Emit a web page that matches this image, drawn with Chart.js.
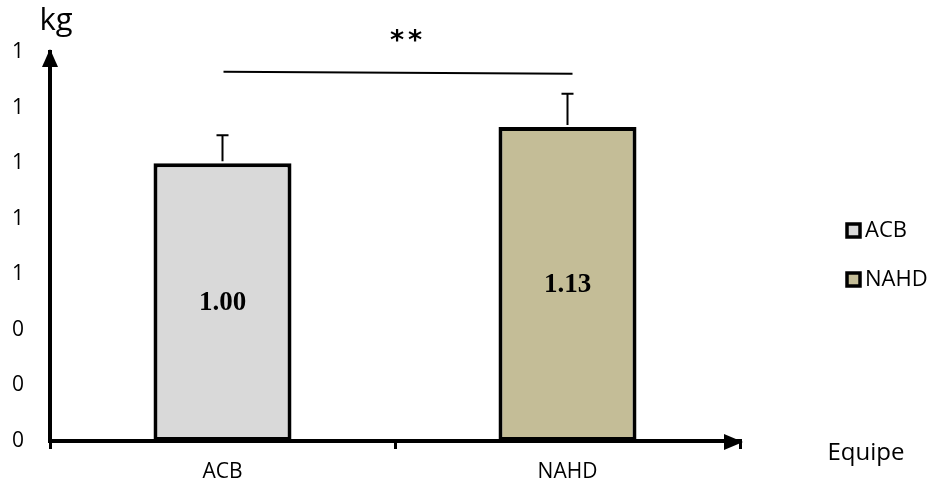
<!DOCTYPE html>
<html>
<head>
<meta charset="utf-8">
<script src="https://cdn.jsdelivr.net/npm/chart.js@4"></script>
<style>
html,body{margin:0;padding:0;background:#fff;}
#wrap{width:935px;height:492px;position:relative;}
</style>
</head>
<body>
<div id="wrap"><canvas id="c" width="935" height="492"></canvas></div>
<script>
const categories = ["ACB", "NAHD"];
const means = [1.00, 1.13];
const errorTops = [1.10, 1.25];
const barColors = ["#D9D9D9", "#C4BD97"];
const valueLabels = ["1.00", "1.13"];
const sigLevel = 1.325;
const sigText = "**";
const yTickStep = 0.2;
const yMax = 1.4;
const yUnit = "kg";
const xTitle = "Equipe";

const FONT = "'Open Sans', 'Liberation Sans', Arial, sans-serif";

const extras = {
  id: 'extras',
  afterDraw(chart) {
    const ctx = chart.ctx;
    const ca = chart.chartArea;
    const xs = chart.scales.x, ys = chart.scales.y;
    const meta = chart.getDatasetMeta(0);
    ctx.save();
    // error bars
    ctx.strokeStyle = '#000';
    ctx.lineWidth = 2;
    meta.data.forEach((bar, i) => {
      const yt = ys.getPixelForValue(errorTops[i]);
      ctx.beginPath();
      ctx.moveTo(bar.x, bar.y - 2);
      ctx.lineTo(bar.x, yt);
      ctx.moveTo(bar.x - 6, yt);
      ctx.lineTo(bar.x + 6, yt);
      ctx.stroke();
    });
    // value labels
    ctx.fillStyle = '#000';
    ctx.font = "bold 27px 'Liberation Serif', 'Times New Roman', serif";
    ctx.textAlign = 'center';
    ctx.textBaseline = 'middle';
    meta.data.forEach((bar, i) => {
      ctx.fillText(valueLabels[i], bar.x, (bar.y + bar.base) / 2 + 1);
    });
    // significance line
    const x0 = xs.getPixelForValue(0), x1 = xs.getPixelForValue(1);
    const sy = ys.getPixelForValue(sigLevel);
    ctx.lineWidth = 2;
    ctx.beginPath();
    ctx.moveTo(x0 + 1, sy - 1);
    ctx.lineTo(x1 + 5, sy + 1);
    ctx.stroke();
    ctx.font = "bold 27px 'DejaVu Sans', sans-serif";
    ctx.textAlign = 'center';
    ctx.textBaseline = 'middle';
    ctx.fillText("*", 397, 42);
    ctx.fillText("*", 415, 42);
    // arrows
    ctx.beginPath();
    ctx.moveTo(ca.left, ca.top - 3);
    ctx.lineTo(ca.left - 8, ca.top + 15);
    ctx.lineTo(ca.left + 8, ca.top + 15);
    ctx.closePath();
    ctx.fill();
    ctx.beginPath();
    ctx.moveTo(ca.right + 3, ca.bottom + 1);
    ctx.lineTo(ca.right - 16, ca.bottom - 7);
    ctx.lineTo(ca.right - 16, ca.bottom + 9);
    ctx.closePath();
    ctx.fill();
    // axis titles
    ctx.font = "31px " + FONT;
    ctx.textAlign = 'center';
    ctx.fillText(yUnit, 56, 21);
    ctx.font = "24px " + FONT;
    ctx.fillText(xTitle, 866, 453);
    // legend
    ctx.font = "22px " + FONT;
    ctx.textAlign = 'left';
    const legY = [230, 279];
    categories.forEach((c, i) => {
      ctx.fillStyle = barColors[i];
      ctx.fillRect(847, legY[i] - 6, 13, 13);
      ctx.strokeStyle = '#000';
      ctx.lineWidth = 3.5;
      ctx.strokeRect(847, legY[i] - 6, 13, 13);
      ctx.fillStyle = '#000';
      ctx.fillText(c, 865, legY[i] + 1);
    });
    ctx.restore();
  }
};

new Chart(document.getElementById('c'), {
  type: 'bar',
  data: {
    labels: categories,
    datasets: [{
      label: 'kg',
      data: means,
      backgroundColor: barColors,
      borderColor: '#000',
      borderWidth: 4,
      borderSkipped: false,
      categoryPercentage: 1.0,
      barPercentage: 0.4
    }]
  },
  options: {
    responsive: false,
    animation: false,
    layout: { padding: { top: 52, right: 195, left: 0, bottom: 0 } },
    plugins: { legend: { display: false }, tooltip: { enabled: false } },
    scales: {
      x: {
        afterFit(s) { s.height = 51; },
        grid: { display: true, drawOnChartArea: false, drawTicks: true, tickLength: 8, color: '#000', lineWidth: 3, offset: true },
        border: { display: true, color: '#000', width: 4 },
        ticks: { color: '#000', padding: 10, font: { family: FONT, size: 21 } }
      },
      y: {
        min: 0, max: yMax,
        afterFit(s) { s.width = 50; },
        grid: { display: false, drawTicks: false },
        border: { display: true, color: '#000', width: 4 },
        ticks: {
          stepSize: yTickStep, color: '#000', padding: 26,
          font: { family: FONT, size: 21 },
          callback: v => Math.round(v).toFixed(0)
        }
      }
    }
  },
  plugins: [extras]
});
</script>
</body>
</html>
